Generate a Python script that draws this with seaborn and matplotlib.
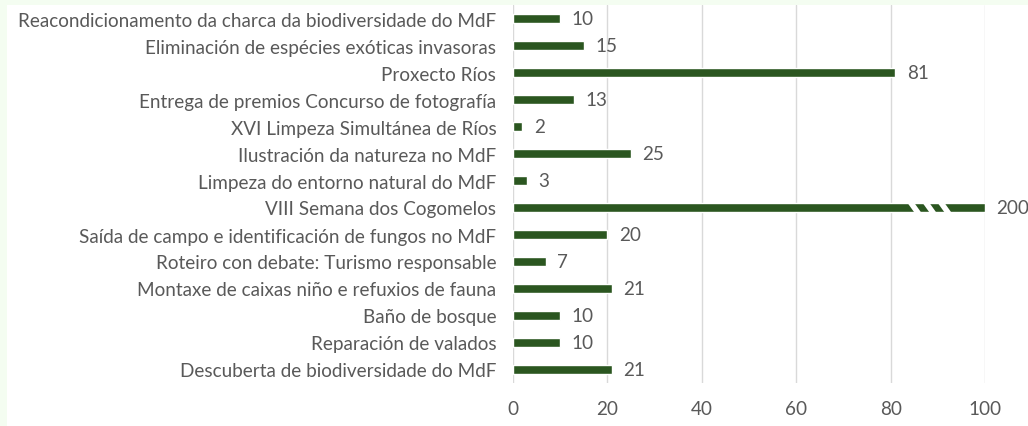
import pandas as pd
import seaborn as sns
import matplotlib.pyplot as plt
from matplotlib.patches import Rectangle

activities = [
    "Reacondicionamento da charca da biodiversidade do MdF",
    "Eliminación de espécies exóticas invasoras",
    "Proxecto Ríos",
    "Entrega de premios Concurso de fotografía",
    "XVI Limpeza Simultánea de Ríos",
    "Ilustración da natureza no MdF",
    "Limpeza do entorno natural do MdF",
    "VIII Semana dos Cogomelos",
    "Saída de campo e identificación de fungos no MdF",
    "Roteiro con debate: Turismo responsable",
    "Montaxe de caixas niño e refuxios de fauna",
    "Baño de bosque",
    "Reparación de valados",
    "Descuberta de biodiversidade do MdF",
]
participants = [10, 15, 81, 13, 2, 25, 3, 200, 20, 7, 21, 10, 10, 21]
axis_max = 100
xticks = [0, 20, 40, 60, 80, 100]

df = pd.DataFrame({"Actividade": activities, "Participantes": participants})
df["Mostrado"] = df["Participantes"].clip(upper=axis_max)

sns.set_style("white")
plt.rcParams["font.family"] = ["Lato", "DejaVu Sans"]
grey = "#595959"
green = "#2b5620"
fs = 13.6

fig = plt.figure(figsize=(10.28, 4.27), dpi=100, facecolor="#f4fdf1")
fig.patches.append(Rectangle((7 / 1028, 0), 1, 421 / 427, transform=fig.transFigure,
                             facecolor="white", edgecolor="none", zorder=-10))
ax = fig.add_axes([513 / 1028, 43 / 427, 472 / 1028, 378 / 427])
ax.set_facecolor("none")

sns.barplot(data=df, y="Actividade", x="Mostrado", color=green, width=0.37,
            saturation=1, ax=ax, zorder=3)

ax.set_xlim(0, axis_max)
ax.set_ylim(len(activities) - 0.5, -0.5)
ax.set_xticks(xticks)
ax.grid(axis="x", color="#d9d9d9", linewidth=1.0, zorder=0)
for s in ax.spines.values():
    s.set_visible(False)
ax.set_xlabel("")
ax.set_ylabel("")
ax.tick_params(axis="both", length=0, labelsize=fs, labelcolor=grey)
ax.tick_params(axis="y", pad=12)
ax.tick_params(axis="x", pad=12)

# value labels
for i, (v, shown) in enumerate(zip(df["Participantes"], df["Mostrado"])):
    ax.text(shown + 2.4, i, str(v), va="center", ha="left", fontsize=fs,
            color=grey, zorder=4, clip_on=False)

# break marks on the truncated bar
for i, (v, shown) in enumerate(zip(df["Participantes"], df["Mostrado"])):
    if v > axis_max:
        for bx in [85, 88.2, 91.4]:
            ax.plot([bx - 0.9, bx + 0.9], [i - 0.22, i + 0.22], color="white",
                    linewidth=4.0, solid_capstyle="butt", zorder=5)

fig.savefig("out.png", dpi=100, facecolor=fig.get_facecolor())
